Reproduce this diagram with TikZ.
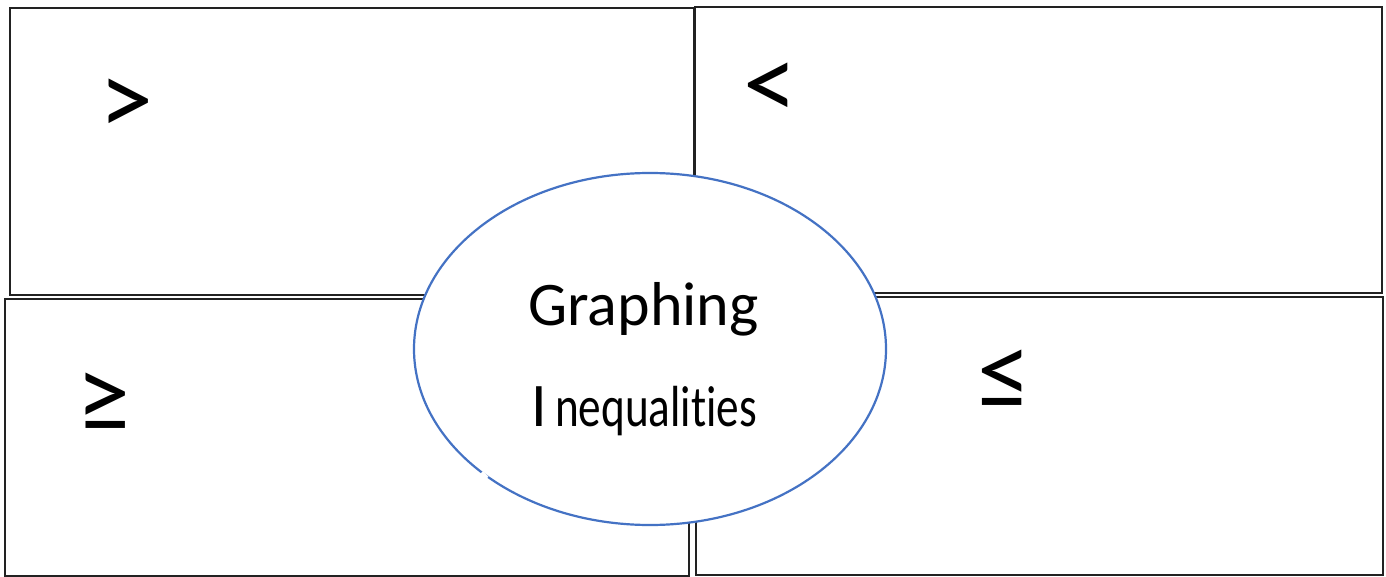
\documentclass[tikz,border=0pt]{standalone}
\usepackage{fontspec}
\setmainfont{Carlito}[Ligatures=NoCommon]
\usetikzlibrary{shapes.geometric}
\definecolor{ellblue}{HTML}{4472C4}
\definecolor{panelline}{HTML}{222222}
\begin{document}
\begin{tikzpicture}[x=0.5pt,y=-0.5pt,
  panel/.style={draw=panelline, line width=1pt, fill=white},
  sym/.style={anchor=base, inner sep=0pt, font=\fontsize{54}{54}\selectfont},
  title/.style={inner sep=0pt, font=\fontsize{31}{31}\selectfont}]
\useasboundingbox (0,0) rectangle (1386,577);
% four panels
\draw[panel] (10,8) rectangle (694,295);
\draw[panel] (694.5,7) rectangle (1382,293);
\draw[panel] (4.5,299) rectangle (689,575.5);
\draw[panel] (696,297) rectangle (1383,575);
% symbols
\node[sym] (gt) at (126,136) {>};
\node[sym] (lt) at (770.5,120) {<};
\node[sym] (ge) at (103,432) {≥};
\node[sym] (le) at (1004,409) {≤};
% centre ellipse
\node[ellipse, draw=ellblue, line width=1.1pt, fill=white, inner sep=0pt,
      minimum width=236pt, minimum height=176pt] (centre) at (650,349) {};
\draw[white, line width=2pt] (481.5,472.5) -- (487,478);
\node[title, anchor=base] (t1) at (643.5,325) {Graphing};
\node[title, anchor=base west] (t2) at (531,426) {I\hspace{4pt}\scalebox{0.78}[1]{\fontsize{29}{29}\selectfont nequalities}};
\end{tikzpicture}
\end{document}
